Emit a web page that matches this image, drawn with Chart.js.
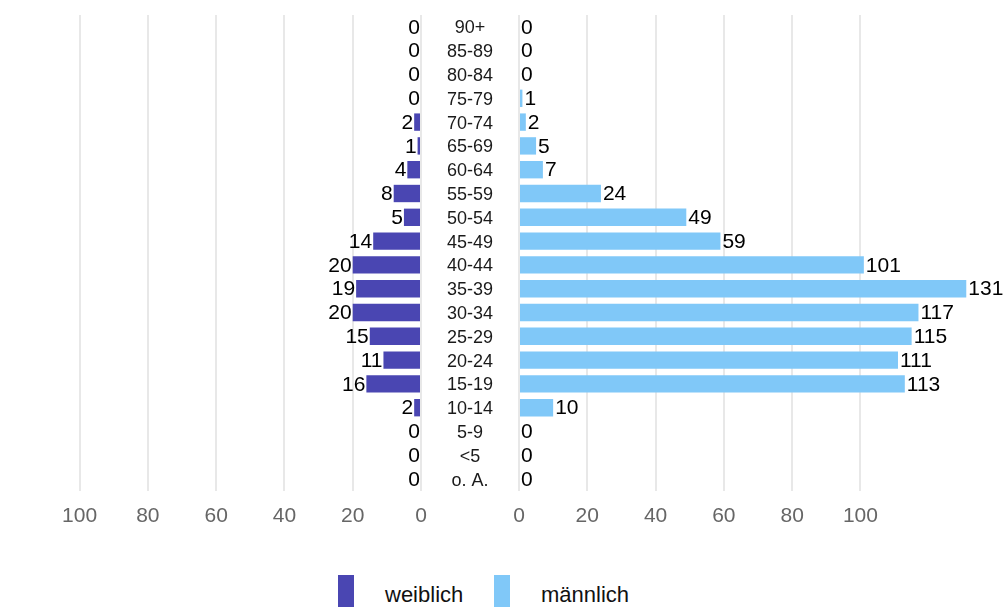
<!DOCTYPE html>
<html>
<head>
<meta charset="utf-8">
<script src="https://cdn.jsdelivr.net/npm/chart.js@4/dist/chart.umd.min.js"></script>
<style>
  body { margin: 0; width: 1008px; height: 607px; overflow: hidden; background: #fff; position: relative; font-family: "Liberation Sans", Arial, sans-serif; }
  .box { position: absolute; top: 0; height: 541px; }
  #leftBox { left: -57px; width: 493px; }
  #rightBox { left: 420px; width: 588px; }
  .leg { position: absolute; top: 575px; width: 16px; height: 40px; }
  .legText { position: absolute; top: 582px; font-size: 22px; color: #111; }
</style>
</head>
<body>
<div class="box" id="leftBox"><canvas id="female"></canvas></div>
<div class="box" id="rightBox"><canvas id="male"></canvas></div>
<div class="leg" style="left:338px; background:#4a46b2;"></div>
<div class="legText" style="left:385px;">weiblich</div>
<div class="leg" style="left:494px; background:#80c8f8;"></div>
<div class="legText" style="left:541px;">männlich</div>
<script>
const ageGroups = ['90+', '85-89', '80-84', '75-79', '70-74', '65-69', '60-64', '55-59', '50-54', '45-49',
    '40-44', '35-39', '30-34', '25-29', '20-24', '15-19', '10-14', '5-9', '<5', 'o. A.'];
const weiblich = [0, 0, 0, 0, 2, 1, 4, 8, 5, 14, 20, 19, 20, 15, 11, 16, 2, 0, 0, 0];
const maennlich = [0, 0, 0, 1, 2, 5, 7, 24, 49, 59, 101, 131, 117, 115, 111, 113, 10, 0, 0, 0];
const axisTicks = [0, 20, 40, 60, 80, 100];

const FONT = '"Liberation Sans", Arial, sans-serif';

// draws the number at the end of each bar
const valueLabels = {
    id: 'valueLabels',
    afterDatasetsDraw(chart, args, opts) {
        const ctx = chart.ctx;
        const data = chart.data.datasets[0].data;
        ctx.save();
        ctx.font = '21px ' + FONT;
        ctx.fillStyle = '#000';
        ctx.textBaseline = 'middle';
        ctx.textAlign = opts.side === 'left' ? 'right' : 'left';
        chart.getDatasetMeta(0).data.forEach((bar, i) => {
            const x = opts.side === 'left' ? bar.x - 1 : bar.x + 2;
            ctx.fillText(data[i], x, bar.y + 1);
        });
        ctx.restore();
    }
};

function xScale(reverse) {
    return {
        min: 0,
        max: 140,
        reverse: reverse,
        afterBuildTicks: axis => { axis.ticks = axisTicks.map(v => ({ value: v })); },
        afterFit: axis => { axis.height = 50; },
        grid: { color: '#e8e8e8', lineWidth: 2, drawTicks: false },
        border: { display: false },
        ticks: { color: '#666', font: { family: FONT, size: 21 }, padding: 13 }
    };
}

function makeChart(id, values, color, side) {
    const isLeft = side === 'left';
    return new Chart(document.getElementById(id), {
        type: 'bar',
        data: {
            labels: ageGroups,
            datasets: [{
                data: values,
                backgroundColor: color,
                barPercentage: 0.73,
                categoryPercentage: 1
            }]
        },
        plugins: [valueLabels],
        options: {
            indexAxis: 'y',
            responsive: true,
            maintainAspectRatio: false,
            animation: false,
            layout: { padding: { top: 15, right: isLeft ? 15 : 11 } },
            plugins: {
                legend: { display: false },
                tooltip: { enabled: false },
                valueLabels: { side: side }
            },
            scales: {
                x: xScale(isLeft),
                y: {
                    display: !isLeft,
                    afterFit: axis => {
                        if (isLeft) return;
                        axis.width = 99;
                        axis.paddingTop = 0;
                        axis.paddingBottom = 0;
                    },
                    grid: { display: false, drawTicks: false },
                    border: { display: false },
                    ticks: {
                        autoSkip: false,
                        crossAlign: 'center',
                        padding: 26,
                        labelOffset: 1.5,
                        color: '#1a1a1a',
                        font: { family: FONT, size: 18 }
                    }
                }
            }
        }
    });
}

makeChart('female', weiblich, '#4a46b2', 'left');
makeChart('male', maennlich, '#80c8f8', 'right');
</script>
</body>
</html>
